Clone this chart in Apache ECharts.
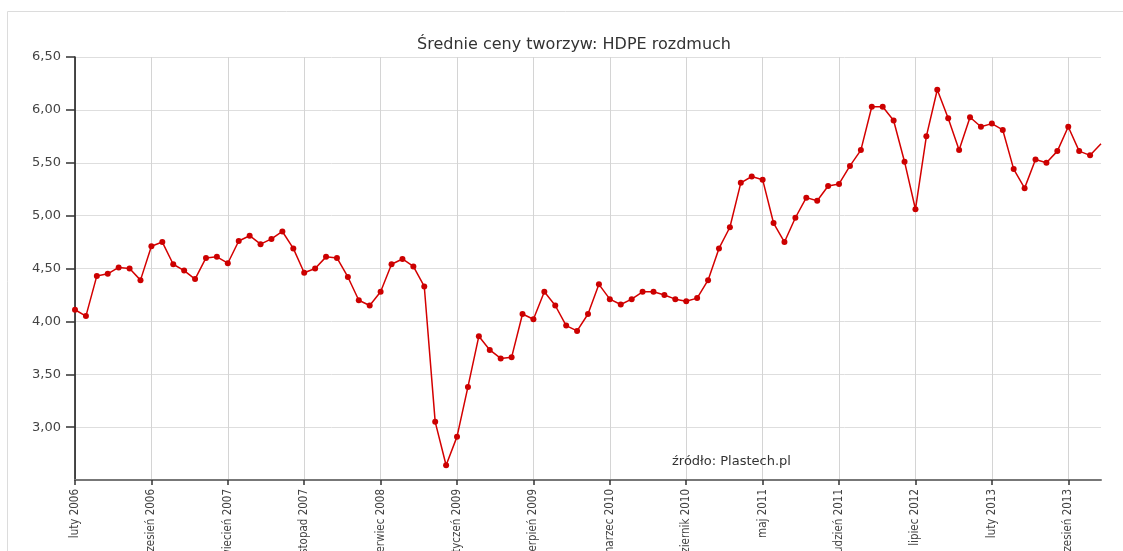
<!DOCTYPE html>
<html>
<head>
<meta charset="utf-8">
<title>Średnie ceny tworzyw: HDPE rozdmuch</title>
<script src="https://cdn.jsdelivr.net/npm/echarts@6/dist/echarts.min.js"></script>
<style>
  html, body { margin: 0; padding: 0; background: #fff; }
  #chart { width: 1123px; height: 551px; }
</style>
</head>
<body>
<div id="chart"></div>
<script>
// dane: średnie ceny HDPE rozdmuch, miesięcznie od lutego 2006
const monthNames = ['styczeń', 'luty', 'marzec', 'kwiecień', 'maj', 'czerwiec',
  'lipiec', 'sierpień', 'wrzesień', 'październik', 'listopad', 'grudzień'];
const startYear = 2006;
const startMonth = 1; // luty

const prices = [
  4.11, 4.05, 4.43, 4.45, 4.51, 4.50, 4.39, 4.71, 4.75, 4.54,
  4.48, 4.40, 4.60, 4.61, 4.55, 4.76, 4.81, 4.73, 4.78, 4.85,
  4.69, 4.46, 4.50, 4.61, 4.60, 4.42, 4.20, 4.15, 4.28, 4.54,
  4.59, 4.52, 4.33, 3.05, 2.64, 2.91, 3.38, 3.86, 3.73, 3.65,
  3.66, 4.07, 4.02, 4.28, 4.15, 3.96, 3.91, 4.07, 4.35, 4.21,
  4.16, 4.21, 4.28, 4.28, 4.25, 4.21, 4.19, 4.22, 4.39, 4.69,
  4.89, 5.31, 5.37, 5.34, 4.93, 4.75, 4.98, 5.17, 5.14, 5.28,
  5.30, 5.47, 5.62, 6.03, 6.03, 5.90, 5.51, 5.06, 5.75, 6.19,
  5.92, 5.62, 5.93, 5.84, 5.87, 5.81, 5.44, 5.26, 5.53, 5.50,
  5.61, 5.84, 5.61, 5.57, 5.68
];

const yTicks = [3.0, 3.5, 4.0, 4.5, 5.0, 5.5, 6.0, 6.5];
const labelStep = 7; // etykieta co 7 miesięcy

// kategorie: "luty 2006", "marzec 2006", ...
const categories = prices.map((_, i) => {
  const m = startMonth + i;
  return monthNames[m % 12] + ' ' + (startYear + Math.floor(m / 12));
});

// ostatni punkt leży na krawędzi wykresu - bez znacznika
const seriesData = prices.map((v, i) =>
  i === prices.length - 1 ? { value: v, symbol: 'none' } : v
);

const chart = echarts.init(document.getElementById('chart'), null, { renderer: 'canvas' });

chart.setOption({
  animation: false,
  backgroundColor: '#fff',
  grid: { left: 75, right: 22, top: 57, bottom: 71, outerBoundsMode: 'none', containLabel: false },
  graphic: [
    {
      type: 'rect',
      shape: { x: 7.5, y: 11.5, width: 1200, height: 600 },
      style: { fill: 'none', stroke: '#dcdcdc', lineWidth: 1 },
      silent: true
    },
    {
      type: 'text',
      x: 574, y: 45,
      style: {
        text: 'Średnie ceny tworzyw: HDPE rozdmuch',
        font: '16px "DejaVu Sans", Verdana, sans-serif',
        fill: '#333',
        textAlign: 'center',
        textVerticalAlign: 'middle'
      }
    },
    {
      type: 'text',
      x: 672, y: 462,
      z: 10,
      style: {
        text: 'źródło: Plastech.pl',
        font: '13px "DejaVu Sans", Verdana, sans-serif',
        fill: '#333',
        textAlign: 'left',
        textVerticalAlign: 'middle'
      }
    }
  ],
  xAxis: {
    type: 'category',
    data: categories,
    boundaryGap: false,
    axisLine: { lineStyle: { color: '#777', width: 2 } },
    axisTick: {
      interval: labelStep - 1,
      length: 5,
      lineStyle: { color: '#333', width: 1.5 }
    },
    axisLabel: {
      interval: labelStep - 1,
      rotate: 90,
      margin: 9,
      color: '#444',
      fontSize: 11.5,
      fontFamily: '"Liberation Sans Narrow", "DejaVu Sans Condensed", sans-serif'
    },
    splitLine: {
      show: true,
      interval: labelStep - 1,
      lineStyle: { color: '#d4d4d4', width: 1 }
    }
  },
  yAxis: {
    type: 'value',
    min: 2.5,
    max: 6.5,
    interval: 0.5,
    axisLine: { show: true, lineStyle: { color: '#111', width: 1.5 } },
    axisTick: {
      show: true,
      length: 9,
      customValues: yTicks,
      lineStyle: { color: '#333', width: 1.5 }
    },
    axisLabel: {
      margin: 14,
      customValues: yTicks,
      color: '#444',
      fontSize: 13,
      fontFamily: '"DejaVu Sans", Verdana, sans-serif',
      formatter: v => v.toFixed(2).replace('.', ',')
    },
    splitLine: { lineStyle: { color: '#dedede', width: 1 } }
  },
  series: [{
    type: 'line',
    data: seriesData,
    color: '#d40000',
    symbol: 'circle',
    symbolSize: 6,
    lineStyle: { color: '#d40000', width: 1.5 },
    itemStyle: { color: '#cc0000' },
    clip: false
  }]
});
</script>
</body>
</html>
